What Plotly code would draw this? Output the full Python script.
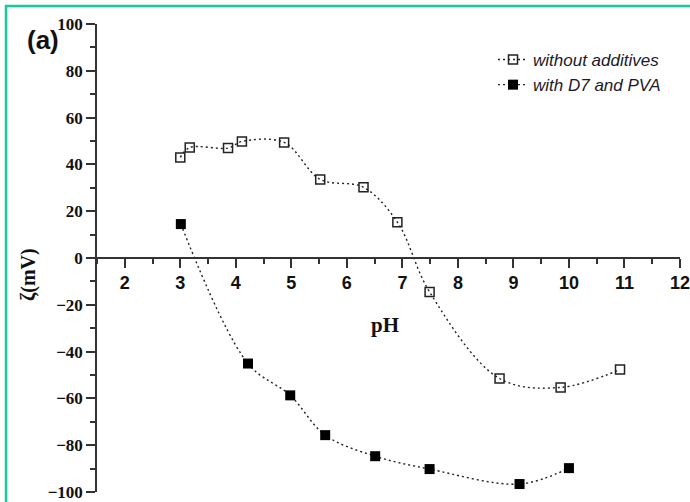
import plotly.graph_objects as go

# Data
ph_without = [3.0, 3.17, 3.86, 4.11, 4.87, 5.52, 6.30, 6.91, 7.49, 8.75, 9.85, 10.92]
zeta_without = [43.0, 47.2, 47.0, 49.8, 49.4, 33.6, 30.2, 15.3, -14.5, -51.5, -55.3, -47.7]

ph_with = [3.01, 4.22, 4.98, 5.61, 6.51, 7.49, 9.11, 10.0]
zeta_with = [14.5, -45.1, -58.7, -75.7, -84.7, -90.2, -96.6, -89.8]

x_ticks = [2, 3, 4, 5, 6, 7, 8, 9, 10, 11, 12]
y_ticks = [-100, -80, -60, -40, -20, 0, 20, 40, 60, 80, 100]

series_names = ["without additives", "with D7 and PVA"]

fig = go.Figure()
fig.add_trace(go.Scatter(
    x=ph_without, y=zeta_without, name=series_names[0],
    mode="lines+markers",
    line=dict(color="#222222", width=1.4, dash="2px,3px", shape="spline", smoothing=1.0),
    marker=dict(symbol="square-open", size=9, color="#222222", line=dict(width=1.5, color="#222222")),
))
fig.add_trace(go.Scatter(
    x=ph_with, y=zeta_with, name=series_names[1],
    mode="lines+markers",
    line=dict(color="#222222", width=1.4, dash="2px,3px", shape="spline", smoothing=1.0),
    marker=dict(symbol="square", size=10, color="#000000"),
))

W, H = 690, 502
L, R, T, B = 97, 10, 24, 10
pw, ph = W - L - R, H - T - B

def px_x(p):
    return (p - L) / pw

def px_y(p):
    return (H - B - p) / ph

fig.update_layout(
    width=W, height=H,
    margin=dict(l=L, r=R, t=T, b=B, autoexpand=False),
    plot_bgcolor="white", paper_bgcolor="white",
    showlegend=True,
    legend=dict(
        x=px_x(493), y=px_y(42), xanchor="left", yanchor="top",
        font=dict(family="Liberation Sans", size=17, style="italic", color="#1a1a2a"),
        bgcolor="rgba(0,0,0,0)", tracegroupgap=0,
    ),
    xaxis=dict(
        range=[1.5, 12], anchor="free", position=0.5, automargin=False,
        showgrid=False, zeroline=False,
        showline=True, linecolor="#333333", linewidth=1.5,
        tickmode="array", tickvals=x_ticks, ticklabeloverflow="allow",
        ticks="outside", ticklen=9, tickwidth=1.5, tickcolor="#333333",
        tickfont=dict(family="Liberation Sans", size=18, weight="bold", color="#111111"),
        minor=dict(tickmode="linear", tick0=1.5, dtick=0.5, ticks="outside", ticklen=5,
                   tickwidth=1.5, tickcolor="#333333", showgrid=False),
    ),
    yaxis=dict(
        range=[-100, 100], automargin=False,
        showgrid=False, zeroline=False,
        showline=True, linecolor="#333333", linewidth=1.5,
        tickmode="array", tickvals=y_ticks, ticklabeloverflow="allow",
        ticks="outside", ticklen=9, tickwidth=1.5, tickcolor="#333333",
        tickfont=dict(family="Liberation Serif", size=17, weight="bold", color="#111111"),
        minor=dict(tickmode="linear", tick0=-100, dtick=10, ticks="outside", ticklen=5,
                   tickwidth=1.5, tickcolor="#333333", showgrid=False),
    ),
    annotations=[
        dict(text="(a)", xref="paper", yref="paper", x=px_x(43), y=px_y(40),
             xanchor="center", yanchor="middle",
             showarrow=False, font=dict(family="Liberation Sans", size=26, weight="bold", color="#111111")),
        dict(text="ζ(mV)", xref="paper", yref="paper", x=px_x(28), y=px_y(275), textangle=-90,
             xanchor="center", yanchor="middle",
             showarrow=False, font=dict(family="Liberation Serif", size=20, weight="bold", color="#111111")),
        dict(text="pH", xref="paper", yref="paper", x=px_x(385), y=px_y(325),
             xanchor="center", yanchor="middle",
             showarrow=False, font=dict(family="Liberation Serif", size=21, weight="bold", color="#111111")),
    ],
    shapes=[
        dict(type="line", xref="paper", yref="paper", x0=px_x(6), x1=px_x(6), y0=px_y(5), y1=px_y(510),
             line=dict(color="#12cc9c", width=2.5)),
        dict(type="line", xref="paper", yref="paper", x0=px_x(5), x1=px_x(700), y0=px_y(6), y1=px_y(6),
             line=dict(color="#12cc9c", width=2.5)),
    ],
)

fig.write_html("out.html", config={"displayModeBar": False},
               post_script="document.body.style.margin='0px';")
